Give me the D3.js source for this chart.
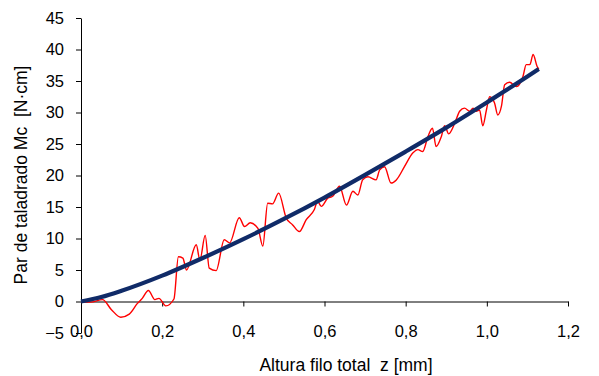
<!DOCTYPE html>
<html>
<head>
<meta charset="utf-8">
<script src="https://cdn.jsdelivr.net/npm/d3@7/dist/d3.min.js"></script>
<style>
  body { margin: 0; background: #fff; }
  text { font-family: "Liberation Sans", Arial, sans-serif; fill: #000; }
</style>
</head>
<body>
<svg id="chart" width="599" height="376"></svg>
<script>
// measured torque (red)
const measZ = [0, 0.024, 0.053, 0.075, 0.098, 0.119, 0.139, 0.151, 0.166, 0.182, 0.192, 0.209, 0.229,
  0.240, 0.251, 0.260, 0.284, 0.293, 0.306, 0.316, 0.333, 0.353, 0.366, 0.390, 0.403, 0.417, 0.436,
  0.448, 0.460, 0.472, 0.487, 0.506, 0.521, 0.538, 0.555, 0.575, 0.583, 0.592, 0.608, 0.620, 0.637,
  0.654, 0.670, 0.682, 0.694, 0.707, 0.727, 0.736, 0.748, 0.764, 0.777, 0.797, 0.818, 0.830, 0.842,
  0.855, 0.866, 0.875, 0.888, 0.896, 0.906, 0.921, 0.933, 0.945, 0.958, 0.966, 0.974, 0.982, 0.990,
  0.999, 1.007, 1.019, 1.027, 1.036, 1.044, 1.056, 1.073, 1.089, 1.097, 1.106, 1.114, 1.124, 1.128];
const measM = [0, -0.1, 0.3, -1.3, -2.5, -2.0, -0.3, 0.5, 1.75, 0.3, 0.5, -0.7, 0.4,
  7.1, 6.9, 5.0, 9.0, 6.6, 10.5, 5.3, 4.9, 9.8, 9.3, 13.3, 11.9, 12.5, 11.6,
  8.8, 15.6, 15.5, 17.2, 13.2, 12.2, 11.1, 13.0, 14.6, 15.9, 15.1, 16.4, 16.7, 18.3,
  15.3, 17.5, 16.9, 19.3, 19.8, 19.3, 20.9, 21.4, 18.8, 19.3, 21.4, 23.6, 24.1, 23.8,
  26.2, 27.5, 24.6, 26.2, 27.9, 26.6, 28.3, 30.2, 30.7, 30.2, 30.7, 30.2, 30.4, 27.9,
  30.4, 32.5, 31.5, 29.6, 31.0, 34.4, 34.8, 34.1, 35.7, 37.6, 37.6, 39.2, 37.3, 36.9];

// fitted torque (blue)
const fitZ = [0, 0.05, 0.1, 0.2, 0.3, 0.4, 0.5, 0.6, 0.7, 0.8, 0.9, 1.0, 1.1, 1.128];
const fitM = [0, 0.7, 1.7, 4.1, 6.9, 9.9, 13.1, 16.5, 20.1, 23.8, 27.6, 31.6, 35.7, 36.9];

const xTicks = [0, 0.2, 0.4, 0.6, 0.8, 1.0, 1.2];
const yTicks = [-5, 0, 5, 10, 15, 20, 25, 30, 35, 40, 45];

const svg = d3.select("#chart");
const plotLeft = 81, plotRight = 568, plotTop = 18, plotBottom = 333;

const x = d3.scaleLinear().domain([0, 1.2]).range([plotLeft, plotRight]);
const y = d3.scaleLinear().domain([-5, 45]).range([plotBottom, plotTop]);

const fmt = d => d3.format(".1f")(d).replace(".", ",");

// y axis
const yAxis = svg.append("g")
  .attr("transform", "translate(" + plotLeft + ",0)")
  .call(d3.axisLeft(y).tickValues(yTicks).tickSize(5).tickPadding(12).tickSizeOuter(0));
yAxis.select(".domain").attr("stroke", "#000");
yAxis.selectAll("text").style("font-size", "16.5px");

// x axis sits on the zero line
const xAxis = svg.append("g")
  .attr("transform", "translate(0," + y(0) + ")")
  .call(d3.axisBottom(x).tickValues(xTicks).tickFormat(fmt).tickSize(5).tickPadding(19).tickSizeOuter(0));
xAxis.select(".domain").attr("stroke", "#000");
xAxis.selectAll("text").style("font-size", "16.5px");

const line = d3.line().x(d => x(d[0])).y(d => y(d[1]));

svg.append("path")
  .datum(measZ.map((z, i) => [z, measM[i]]))
  .attr("fill", "none")
  .attr("stroke", "#ff0000")
  .attr("stroke-width", 1.4)
  .attr("d", line.curve(d3.curveMonotoneX));

svg.append("path")
  .datum(fitZ.map((z, i) => [z, fitM[i]]))
  .attr("fill", "none")
  .attr("stroke", "#102b68")
  .attr("stroke-width", 4.2)
  .attr("d", line.curve(d3.curveMonotoneX));

// axis titles
svg.append("text")
  .attr("x", 346).attr("y", 371)
  .attr("text-anchor", "middle")
  .style("font-size", "17.5px")
  .style("white-space", "pre")
  .text("Altura filo total  z [mm]");

svg.append("text")
  .attr("transform", "translate(26.5,175) rotate(-90)")
  .attr("text-anchor", "middle")
  .style("font-size", "17.5px")
  .style("white-space", "pre")
  .text("Par de taladrado Mc  [N·cm]");
</script>
</body>
</html>
